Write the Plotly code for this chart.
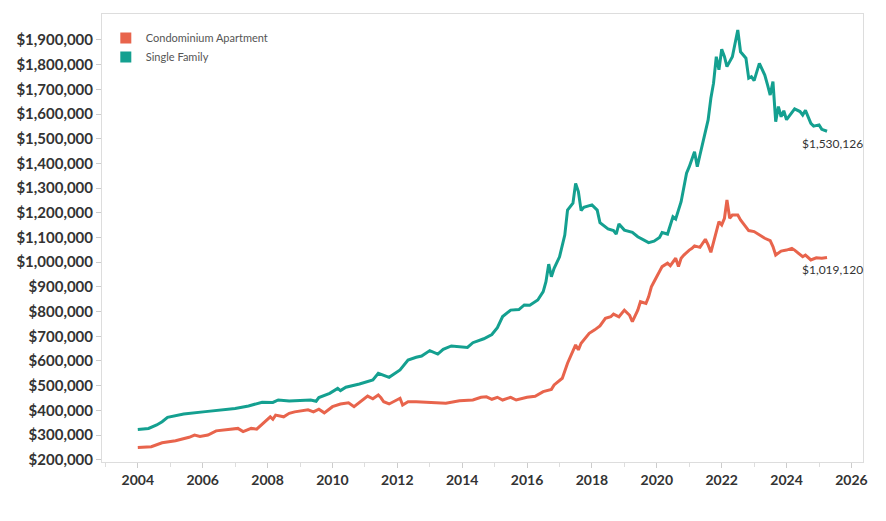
import plotly.graph_objects as go

# ---- Data ----
sf_dates = [
    "2004-01", "2004-05", "2004-08", "2004-10", "2004-12", "2005-06", "2006-02", "2006-10",
    "2007-01", "2007-06", "2007-11", "2008-03", "2008-05", "2008-09", "2009-05", "2009-07",
    "2009-08", "2009-12", "2010-03", "2010-04", "2010-06", "2010-11", "2011-04", "2011-06",
    "2011-08", "2011-10", "2012-02", "2012-05", "2012-08", "2012-10", "2013-01", "2013-04",
    "2013-06", "2013-09", "2014-03", "2014-05", "2014-09", "2014-12", "2015-02", "2015-04",
    "2015-07", "2015-10", "2015-12", "2016-02", "2016-05", "2016-07", "2016-08", "2016-09",
    "2016-10", "2016-11", "2017-01", "2017-03", "2017-04", "2017-06", "2017-07", "2017-08",
    "2017-09", "2017-10", "2018-01", "2018-03", "2018-04", "2018-06", "2018-07", "2018-09",
    "2018-10", "2018-11", "2019-01", "2019-04", "2019-06", "2019-10", "2019-12", "2020-02",
    "2020-03", "2020-05", "2020-07", "2020-08", "2020-09", "2020-10", "2020-12", "2021-01",
    "2021-03", "2021-04", "2021-05", "2021-07", "2021-08", "2021-09", "2021-10", "2021-11",
    "2021-12", "2022-01", "2022-02", "2022-03", "2022-05", "2022-07", "2022-08", "2022-10",
    "2022-11", "2022-12", "2023-01", "2023-03", "2023-05", "2023-06", "2023-07", "2023-08",
    "2023-09", "2023-10", "2023-11", "2023-12", "2024-01", "2024-04", "2024-06", "2024-07",
    "2024-08", "2024-10", "2024-11", "2025-01", "2025-02", "2025-04",
]
sf_values = [
    323000, 327000, 341000, 354000, 372000, 385000, 395000, 404000,
    408000, 418000, 433000, 432000, 442000, 438000, 442000, 437000,
    452000, 469000, 489000, 480000, 494000, 507000, 523000, 550000,
    543000, 534000, 564000, 604000, 615000, 620000, 642000, 628000,
    647000, 661000, 655000, 674000, 690000, 707000, 735000, 780000,
    806000, 808000, 827000, 826000, 847000, 881000, 921000, 992000,
    941000, 975000, 1022000, 1110000, 1211000, 1239000, 1319000, 1286000,
    1209000, 1222000, 1232000, 1211000, 1160000, 1144000, 1135000, 1128000,
    1114000, 1155000, 1130000, 1121000, 1103000, 1079000, 1085000, 1100000,
    1120000, 1114000, 1184000, 1175000, 1211000, 1245000, 1360000, 1387000,
    1447000, 1387000, 1434000, 1522000, 1576000, 1664000, 1725000, 1832000,
    1779000, 1862000, 1832000, 1792000, 1832000, 1940000, 1852000, 1826000,
    1745000, 1751000, 1735000, 1805000, 1758000, 1718000, 1677000, 1731000,
    1569000, 1630000, 1589000, 1613000, 1577000, 1621000, 1610000, 1596000,
    1615000, 1562000, 1551000, 1556000, 1538000, 1530126,
]

condo_dates = [
    "2004-01", "2004-06", "2004-10", "2005-03", "2005-08", "2005-10", "2005-12", "2006-03",
    "2006-06", "2006-10", "2007-02", "2007-04", "2007-07", "2007-09", "2007-12", "2008-02",
    "2008-03", "2008-04", "2008-07", "2008-09", "2008-11", "2009-04", "2009-06", "2009-08",
    "2009-10", "2010-01", "2010-04", "2010-07", "2010-09", "2010-12", "2011-02", "2011-04",
    "2011-06", "2011-07", "2011-08", "2011-10", "2012-02", "2012-03", "2012-05", "2012-08",
    "2013-02", "2013-07", "2013-12", "2014-05", "2014-08", "2014-10", "2014-12", "2015-02",
    "2015-04", "2015-07", "2015-09", "2016-01", "2016-04", "2016-07", "2016-10", "2016-11",
    "2017-02", "2017-04", "2017-07", "2017-08", "2017-09", "2017-12", "2018-02", "2018-04",
    "2018-06", "2018-08", "2018-09", "2018-11", "2019-01", "2019-03", "2019-04", "2019-06",
    "2019-07", "2019-09", "2019-10", "2019-11", "2019-12", "2020-02", "2020-03", "2020-05",
    "2020-06", "2020-08", "2020-09", "2020-10", "2020-11", "2021-01", "2021-02", "2021-03",
    "2021-05", "2021-07", "2021-08", "2021-09", "2021-10", "2021-11", "2021-12", "2022-01",
    "2022-02", "2022-03", "2022-04", "2022-05", "2022-07", "2022-08", "2022-10", "2022-11",
    "2023-01", "2023-03", "2023-05", "2023-07", "2023-08", "2023-09", "2023-11", "2024-01",
    "2024-03", "2024-04", "2024-07", "2024-08", "2024-10", "2024-12", "2025-02", "2025-04",
]
condo_values = [
    250000, 253000, 269000, 277000, 291000, 300000, 294000, 300000,
    317000, 323000, 327000, 314000, 327000, 324000, 354000, 374000,
    364000, 381000, 374000, 388000, 394000, 402000, 394000, 405000,
    390000, 415000, 426000, 431000, 415000, 442000, 458000, 447000,
    462000, 451000, 435000, 426000, 449000, 422000, 435000, 435000,
    431000, 429000, 439000, 442000, 453000, 455000, 445000, 453000,
    442000, 453000, 442000, 453000, 457000, 476000, 485000, 503000,
    530000, 591000, 665000, 645000, 672000, 712000, 726000, 742000,
    773000, 779000, 790000, 779000, 806000, 785000, 759000, 806000,
    840000, 833000, 860000, 900000, 921000, 960000, 982000, 996000,
    986000, 1016000, 982000, 1016000, 1029000, 1049000, 1056000, 1066000,
    1060000, 1093000, 1070000, 1040000, 1079000, 1117000, 1164000, 1151000,
    1178000, 1252000, 1178000, 1191000, 1191000, 1171000, 1144000, 1128000,
    1124000, 1110000, 1097000, 1087000, 1063000, 1029000, 1045000, 1049000,
    1056000, 1049000, 1022000, 1029000, 1009000, 1018000, 1016000, 1019120,
]

series_names = ["Condominium Apartment", "Single Family"]
series_colors = ["#e8644c", "#14a090"]
y_ticks = list(range(200000, 1900001, 100000))
y_tick_labels = ["${:,}".format(v) for v in y_ticks]

FONT = "Lato, 'Open Sans', sans-serif"
TEXT = "#333333"

fig = go.Figure()
series = [(condo_dates, condo_values), (sf_dates, sf_values)]
for (xs, ys), name, color in zip(series, series_names, series_colors):
    fig.add_trace(go.Scatter(
        x=xs, y=ys, mode="lines", name=name, showlegend=False,
        line=dict(color=color, width=3), hoverinfo="x+y",
    ))
# legend swatches (square symbols)
for name, color in zip(series_names, series_colors):
    fig.add_trace(go.Scatter(
        x=[None], y=[None], mode="markers", name=name,
        marker=dict(symbol="square", size=11, color=color),
    ))

# end-of-line value labels
for (xs, ys) in series:
    fig.add_annotation(
        x=xs[-1], y=ys[-1], text="${:,.0f}".format(ys[-1]),
        showarrow=False, xanchor="center", yanchor="middle",
        xshift=5, yshift=-12,
        font=dict(family=FONT, size=12, color=TEXT),
    )

fig.update_layout(
    template="none",
    width=886, height=521,
    margin=dict(l=102, r=23, t=14, b=59, autoexpand=False),
    paper_bgcolor="white", plot_bgcolor="white",
    font=dict(family=FONT, color=TEXT),
    legend=dict(
        x=0.005, y=0.979, xanchor="left", yanchor="top",
        bgcolor="rgba(0,0,0,0)", font=dict(family=FONT, size=11, color="#555555"),
        tracegroupgap=0, itemwidth=30,
    ),
)
fig.update_xaxes(
    type="date", range=["2002-11-24", "2026-05-11"], automargin=False,
    tick0="2004-01-01", dtick="M24", tickformat="%Y",
    showgrid=False, zeroline=False,
    showline=True, linecolor="#dddddd", linewidth=1, mirror=True,
    ticks="outside", ticklen=5, tickcolor="#cccccc",
    minor=dict(ticks="outside", ticklen=4, tickcolor="#dddddd", dtick="M12", tick0="2003-01-01", showgrid=False),
    tickfont=dict(family=FONT, size=14, color=TEXT, weight="bold"),
)
fig.update_yaxes(
    range=[191000, 2005000], automargin=False,
    tickmode="array", tickvals=y_ticks, ticktext=y_tick_labels,
    showgrid=False, zeroline=False,
    showline=True, linecolor="#dddddd", linewidth=1, mirror=True,
    ticks="outside", ticklen=5, tickcolor="#cccccc",
    tickfont=dict(family=FONT, size=15, color=TEXT, weight="bold"),
)

fig.write_html(
    "out.html",
    config={"displayModeBar": False},
    post_script="document.body.style.margin='0px';document.body.style.overflow='hidden';",
)
